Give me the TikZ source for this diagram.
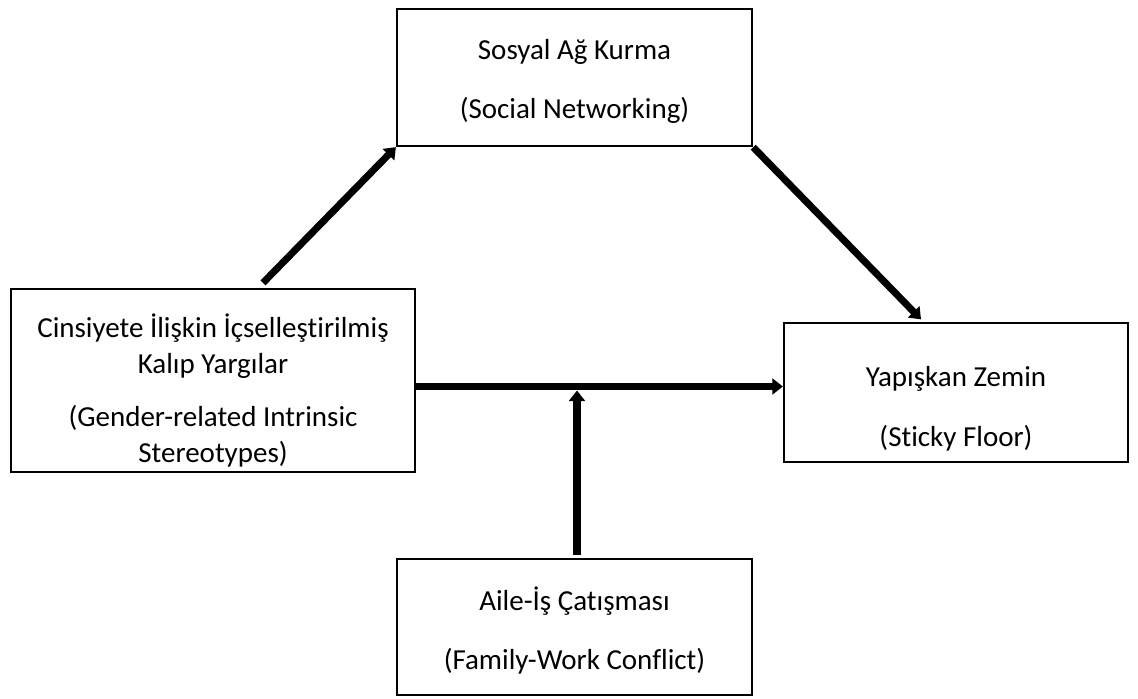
\documentclass[tikz,border=0pt]{standalone}
\usepackage{fontspec}
\setmainfont{Carlito}[Ligatures={TeX,CommonOff}]
\usepackage{tikz}
\usetikzlibrary{arrows.meta,positioning,calc}

\begin{document}
\begin{tikzpicture}[
    box/.style={draw,rectangle,line width=1.3pt,inner sep=0pt},
    txt/.style={align=center,inner sep=0pt},
    flow/.style={-{Triangle[length=6pt,width=9pt]},line width=4pt}
  ]
    \useasboundingbox (0,0) rectangle (22.76,13.96);
    \fontsize{16.5}{21}\selectfont

    % Boxes
    \node[box,minimum width=7.1cm,minimum height=2.74cm] (net) at (11.49,12.41) {};
    \node[box,minimum width=8.08cm,minimum height=3.66cm] (stereo) at (4.26,6.35) {};
    \node[box,minimum width=6.88cm,minimum height=2.78cm] (floor) at (19.12,6.11) {};
    \node[box,minimum width=7.1cm,minimum height=2.72cm] (conflict) at (11.49,1.42) {};

    % Texts
    \node[txt] (net-txt) at ([yshift=-0.08cm]net) {Sosyal Ağ Kurma\\[13pt](Social Networking)};
    \node[txt,font={\fontsize{16.5}{20.5}\selectfont}] (stereo-txt) at ([yshift=-0.2cm]stereo) {Cinsiyete İlişkin İçselleştirilmiş\\Kalıp Yargılar\\[10pt](Gender-related Intrinsic\\Stereotypes)};
    \node[txt] (floor-txt) at ([yshift=-0.32cm]floor) {Yapışkan Zemin\\[13pt](Sticky Floor)};
    \node[txt] (conflict-txt) at ([yshift=-0.07cm]conflict) {Aile-İş Çatışması\\[13pt](Family-Work Conflict)};

    % Arrows
    \draw[flow] ([xshift=1.0cm,yshift=0.1cm]stereo.north) -- (net.south west);
    \draw[flow] (net.south east) -- ([xshift=-0.7cm,yshift=0.05cm]floor.north);
    \coordinate (start) at ([yshift=-0.12cm]stereo.east);
    \draw[flow] (start) -- (start -| floor.west);
    \coordinate (meet) at (start -| conflict.north);
    \draw[flow] ([xshift=0.05cm,yshift=0.06cm]conflict.north) -- ([xshift=0.05cm,yshift=-0.08cm]meet);
\end{tikzpicture}
\end{document}
